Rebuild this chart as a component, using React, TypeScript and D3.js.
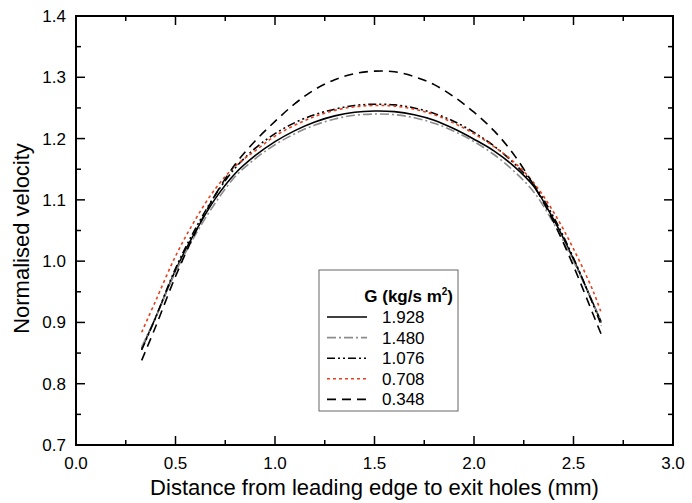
import React from 'react';
import * as d3 from 'd3';

const xs = [0.33, 0.4, 0.5, 0.6, 0.7, 0.8, 0.9, 1.0, 1.1, 1.2, 1.3, 1.4, 1.5, 1.6, 1.7, 1.8, 1.9, 2.0, 2.1, 2.2, 2.3, 2.4, 2.5, 2.6, 2.64];

const g1928 = [0.857, 0.908, 0.985, 1.048, 1.102, 1.143, 1.172, 1.195, 1.213, 1.227, 1.237, 1.243, 1.245, 1.244, 1.239, 1.230, 1.216, 1.199, 1.180, 1.155, 1.122, 1.068, 1.003, 0.930, 0.900];
const g1480 = [0.860, 0.908, 0.982, 1.043, 1.095, 1.138, 1.167, 1.190, 1.208, 1.222, 1.232, 1.238, 1.240, 1.239, 1.234, 1.225, 1.212, 1.195, 1.174, 1.147, 1.113, 1.062, 1.000, 0.930, 0.900];
const g1076 = [0.855, 0.908, 0.988, 1.053, 1.108, 1.152, 1.184, 1.208, 1.226, 1.239, 1.248, 1.254, 1.256, 1.255, 1.250, 1.241, 1.228, 1.210, 1.188, 1.160, 1.125, 1.072, 1.005, 0.928, 0.895];
const g0708 = [0.884, 0.935, 1.008, 1.068, 1.118, 1.155, 1.180, 1.204, 1.222, 1.236, 1.246, 1.252, 1.254, 1.253, 1.248, 1.239, 1.225, 1.208, 1.187, 1.162, 1.128, 1.080, 1.020, 0.950, 0.915];
const g0348 = [0.838, 0.893, 0.975, 1.047, 1.108, 1.158, 1.196, 1.228, 1.257, 1.280, 1.296, 1.306, 1.310, 1.309, 1.301, 1.288, 1.268, 1.243, 1.213, 1.174, 1.124, 1.064, 0.992, 0.912, 0.880];

const seriesNames = ['1.928', '1.480', '1.076', '0.708', '0.348'];
const seriesValues = [g1928, g1480, g1076, g0708, g0348];
const seriesColors = ['#000', '#8c8c8c', '#000', '#e4401e', '#000'];
const seriesDash = ['', '9,3,2,3', '8,3,2,3,2,3', '3,3', '9,6'];

const xTicks = [0, 0.5, 1, 1.5, 2, 2.5, 3];
const yTicks = [0.7, 0.8, 0.9, 1.0, 1.1, 1.2, 1.3, 1.4];

const W = 692;
const H = 503;
const left = 76, right = 673, top = 16, bottom = 445;
const font = 'Liberation Sans, Arial, sans-serif';

export default function App() {
  const x = d3.scaleLinear().domain([0, 3]).range([left, right]);
  const y = d3.scaleLinear().domain([0.7, 1.4]).range([bottom, top]);
  const line = d3.line<[number, number]>()
    .x(d => x(d[0]))
    .y(d => y(d[1]))
    .curve(d3.curveCatmullRom);

  const xMinor = d3.range(0.25, 3, 0.5);
  const yMinor = d3.range(0.75, 1.4, 0.1);

  return (
    <svg width={W} height={H} style={{ position: 'absolute', left: 0, top: 0 }}>
      <rect width={W} height={H} fill="#fff" />
      {seriesValues.map((vals, i) => (
        <path
          key={seriesNames[i]}
          d={line(xs.map((v, j) => [v, vals[j]] as [number, number])) || ''}
          fill="none"
          stroke={seriesColors[i]}
          strokeWidth={1.6}
          strokeDasharray={seriesDash[i]}
        />
      ))}

      {/* ticks, mirrored on all four sides */}
      {xTicks.map(t => (
        <g key={'x' + t}>
          <line x1={x(t)} x2={x(t)} y1={bottom} y2={bottom - 9} stroke="#000" strokeWidth={1.5} />
          <line x1={x(t)} x2={x(t)} y1={top} y2={top + 9} stroke="#000" strokeWidth={1.5} />
          <text x={x(t)} y={bottom + 24} textAnchor="middle" fontSize={17} fontFamily={font}>{t.toFixed(1)}</text>
        </g>
      ))}
      {xMinor.map(t => (
        <g key={'xm' + t}>
          <line x1={x(t)} x2={x(t)} y1={bottom} y2={bottom - 5} stroke="#000" strokeWidth={1.5} />
          <line x1={x(t)} x2={x(t)} y1={top} y2={top + 5} stroke="#000" strokeWidth={1.5} />
        </g>
      ))}
      {yTicks.map(t => (
        <g key={'y' + t}>
          <line x1={left} x2={left + 9} y1={y(t)} y2={y(t)} stroke="#000" strokeWidth={1.5} />
          <line x1={right} x2={right - 9} y1={y(t)} y2={y(t)} stroke="#000" strokeWidth={1.5} />
          <text x={left - 10} y={y(t) + 6} textAnchor="end" fontSize={17} fontFamily={font}>{t.toFixed(1)}</text>
        </g>
      ))}
      {yMinor.map(t => (
        <g key={'ym' + t}>
          <line x1={left} x2={left + 5} y1={y(t)} y2={y(t)} stroke="#000" strokeWidth={1.5} />
          <line x1={right} x2={right - 5} y1={y(t)} y2={y(t)} stroke="#000" strokeWidth={1.5} />
        </g>
      ))}
      <rect x={left} y={top} width={right - left} height={bottom - top} fill="none" stroke="#000" strokeWidth={2} />

      <text x={(left + right) / 2} y={495} textAnchor="middle" fontSize={22} fontFamily={font}>
        Distance from leading edge to exit holes (mm)
      </text>
      <text transform={`translate(29,${(top + bottom) / 2 + 8}) rotate(-90)`} textAnchor="middle" fontSize={22} fontFamily={font}>
        Normalised velocity
      </text>

      {/* legend */}
      <rect x={319} y={270} width={139} height={141} fill="#fff" stroke="#666" strokeWidth={1} />
      <text x={453} y={302} textAnchor="end" fontSize={17} fontWeight="bold" fontFamily={font}>
        G (kg/s m<tspan dy={-7} fontSize={10}>2</tspan><tspan dy={7}>)</tspan>
      </text>
      {seriesNames.map((n, i) => {
        const cy = 317 + i * 20.6;
        return (
          <g key={'lg' + n}>
            <line x1={327} x2={367} y1={cy} y2={cy} stroke={seriesColors[i]} strokeWidth={1.6} strokeDasharray={seriesDash[i]} />
            <text x={382} y={cy + 6} fontSize={17} fontFamily={font}>{n}</text>
          </g>
        );
      })}
    </svg>
  );
}
